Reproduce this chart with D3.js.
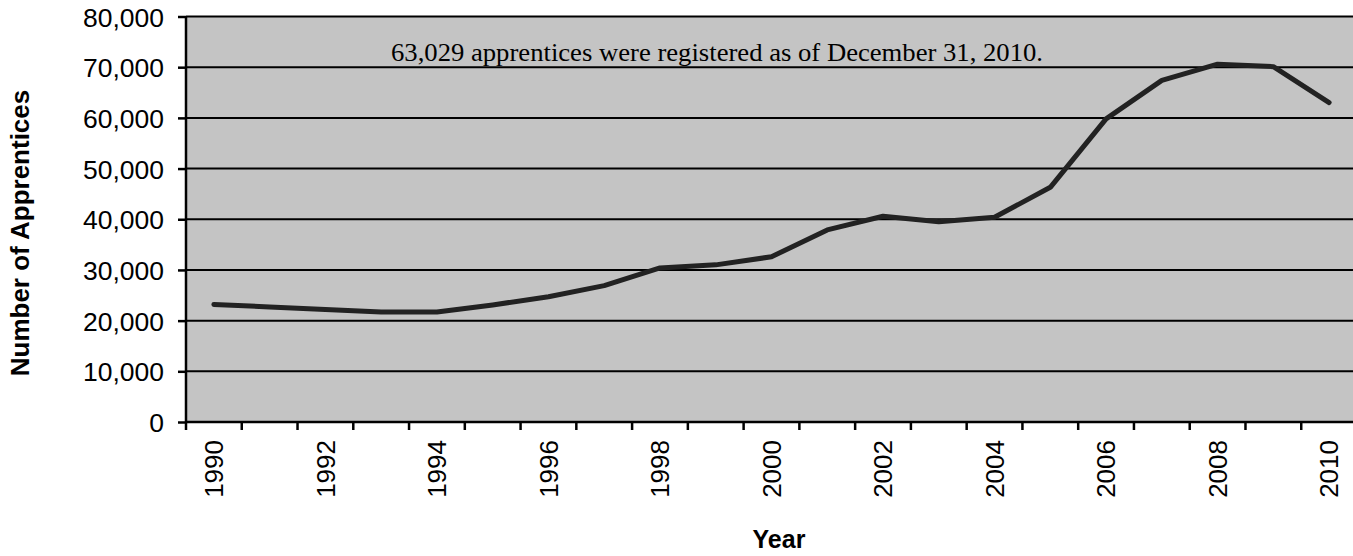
<!DOCTYPE html>
<html>
<head>
<meta charset="utf-8">
<script src="https://cdn.jsdelivr.net/npm/d3@7"></script>
<style>
    body { margin: 0; background: #fff; }
    svg text { fill: #000; }
</style>
</head>
<body>
<svg id="chart" width="1353" height="556"></svg>
<script>
// Registered apprentices per year
const years = [1990, 1991, 1992, 1993, 1994, 1995, 1996, 1997, 1998, 1999, 2000,
               2001, 2002, 2003, 2004, 2005, 2006, 2007, 2008, 2009, 2010];
const apprentices = [23200, 22700, 22200, 21700, 21700, 23100, 24700, 26900, 30400, 31000, 32600,
                     37900, 40600, 39500, 40400, 46300, 59800, 67400, 70600, 70100, 63029];
const yTicks = [0, 10000, 20000, 30000, 40000, 50000, 60000, 70000, 80000];
const xLabelYears = [1990, 1992, 1994, 1996, 1998, 2000, 2002, 2004, 2006, 2008, 2010];
const note = "63,029 apprentices were registered as of December 31, 2010.";

const margin = {top: 16.5, left: 186};
const width = 1171, height = 405.5;

const svg = d3.select("#chart");
const g = svg.append("g").attr("transform", `translate(${margin.left},${margin.top})`);

const x = d3.scaleBand().domain(years).range([0, width]);
const y = d3.scaleLinear().domain([0, 80000]).range([height, 0]);

// plot background
g.append("rect")
    .attr("width", width).attr("height", height)
    .attr("fill", "#c4c4c4");

// gridlines
g.selectAll("line.grid").data(yTicks.filter(d => d > 0))
    .enter().append("line")
    .attr("class", "grid")
    .attr("x1", 0).attr("x2", width)
    .attr("y1", d => y(d)).attr("y2", d => y(d))
    .attr("stroke", "#000").attr("stroke-width", 2);

// y axis
const yAxis = g.append("g")
    .call(d3.axisLeft(y).tickValues(yTicks).tickSize(8).tickPadding(14).tickFormat(d3.format(",")));
yAxis.select(".domain").attr("stroke-width", 2.5).attr("d", `M0,${height}V0`);
yAxis.selectAll(".tick line").attr("stroke-width", 2.5);
yAxis.selectAll(".tick text")
    .style("font-family", "'Liberation Sans', Arial, sans-serif")
    .style("font-size", "26.5px")
    .attr("dy", "0.36em");

// x axis: ticks at category boundaries, labels at centres
const xAxis = g.append("g").attr("transform", `translate(0,${height})`);
xAxis.append("line")
    .attr("x1", 0).attr("x2", width)
    .attr("stroke", "#000").attr("stroke-width", 2.5);
xAxis.selectAll("line.tick").data(years)
    .enter().append("line")
    .attr("class", "tick")
    .attr("x1", d => x(d)).attr("x2", d => x(d))
    .attr("y1", 0).attr("y2", 8)
    .attr("stroke", "#000").attr("stroke-width", 2.5);
xAxis.selectAll("text").data(xLabelYears)
    .enter().append("text")
    .attr("transform", d => `translate(${x(d) + x.bandwidth() / 2},18) rotate(-90)`)
    .attr("text-anchor", "end")
    .attr("dy", "0.36em")
    .style("font-family", "'Liberation Sans', Arial, sans-serif")
    .style("font-size", "26px")
    .text(d => d);

// data line
const line = d3.line()
    .x((d, i) => x(years[i]) + x.bandwidth() / 2)
    .y(d => y(d));
g.append("path")
    .datum(apprentices)
    .attr("d", line)
    .attr("fill", "none")
    .attr("stroke", "#222")
    .attr("stroke-width", 5)
    .attr("stroke-linejoin", "round")
    .attr("stroke-linecap", "round");

// annotation
svg.append("text")
    .attr("x", 391).attr("y", 61)
    .style("font-family", "'Liberation Serif', 'Times New Roman', serif")
    .style("font-size", "25px")
    .attr("textLength", 652)
    .attr("lengthAdjust", "spacingAndGlyphs")
    .text(note);

// axis titles
svg.append("text")
    .attr("transform", "translate(29,233) rotate(-90)")
    .attr("text-anchor", "middle")
    .style("font-family", "'Liberation Sans', Arial, sans-serif")
    .style("font-size", "26px")
    .style("font-weight", "bold")
    .text("Number of Apprentices");

svg.append("text")
    .attr("x", 779).attr("y", 548)
    .attr("text-anchor", "middle")
    .style("font-family", "'Liberation Sans', Arial, sans-serif")
    .style("font-size", "25px")
    .style("font-weight", "bold")
    .text("Year");
</script>
</body>
</html>
